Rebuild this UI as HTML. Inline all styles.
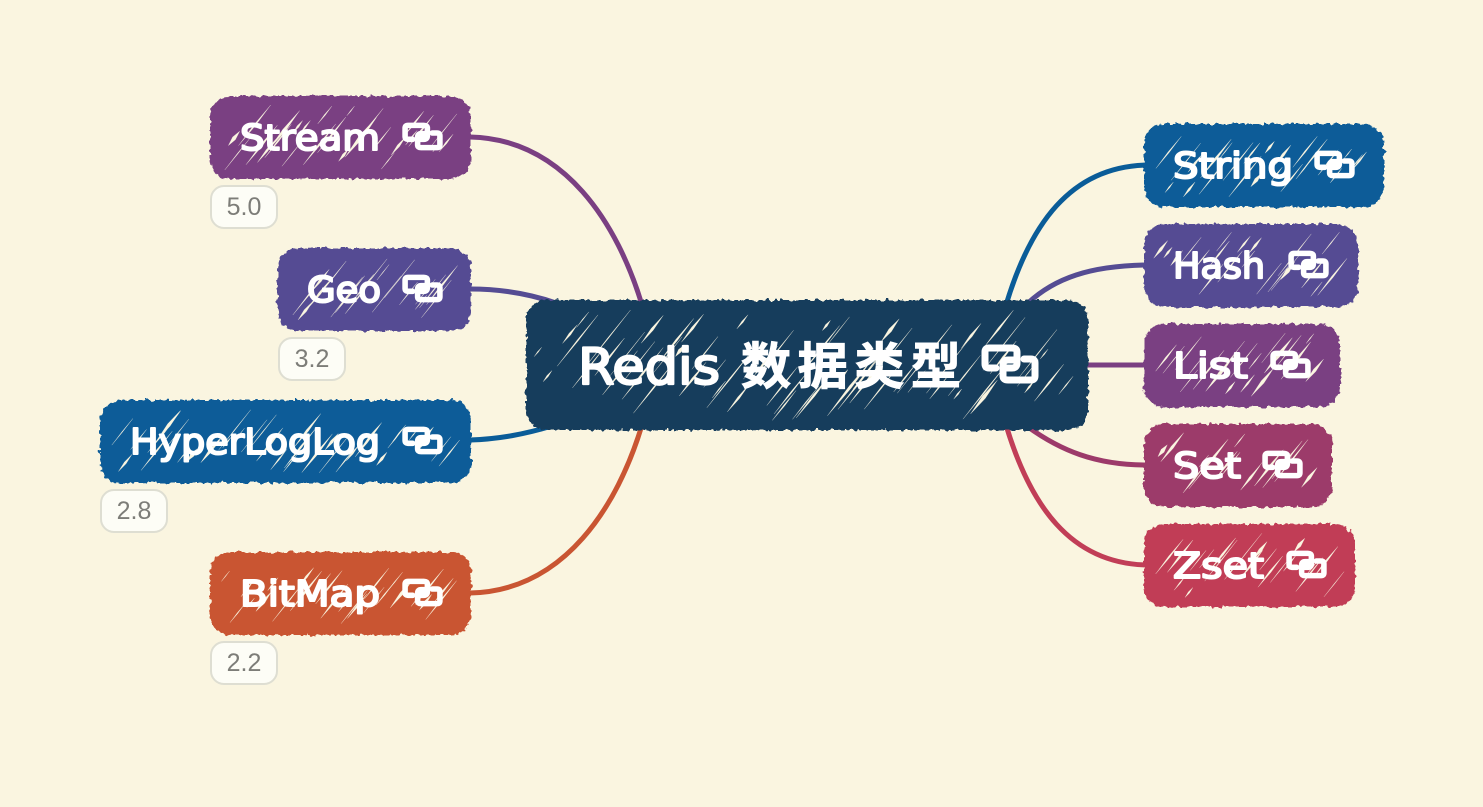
<!DOCTYPE html>
<html><head><meta charset="utf-8"><title>Redis 数据类型</title>
<style>
html,body{margin:0;padding:0;background:#faf5e0;width:1483px;height:807px;overflow:hidden}
svg{display:block}
.t{font-family:"DejaVu Sans","Liberation Sans",sans-serif;font-size:36px;font-weight:400;fill:#fff;stroke:#fff;stroke-width:2;stroke-linejoin:round}
.r{font-size:50px;font-family:"DejaVu Sans","Noto Sans CJK SC",sans-serif;stroke-width:2.2}
.c{font-family:"Noto Sans CJK SC","WenQuanYi Zen Hei",sans-serif;font-weight:700;font-size:50px;fill:#fff;stroke:#fff;stroke-width:1}
.v{font-family:"Liberation Sans",sans-serif;font-size:25px;fill:#7d7d78;text-anchor:middle}
.tag{fill:#fdfdf6;stroke:#deded2;stroke-width:2}
.l{fill:none;stroke-linecap:round}
use{stroke-width:8}
use.b{stroke-width:7}
</style></head><body>
<svg id="s" xmlns="http://www.w3.org/2000/svg" width="1483" height="807" viewBox="0 0 1483 807">
<defs>
<filter id="rough" x="-5%" y="-10%" width="110%" height="120%">
<feTurbulence type="fractalNoise" baseFrequency="0.2" numOctaves="2" seed="4"/>
<feDisplacementMap in="SourceGraphic" scale="6" xChannelSelector="R" yChannelSelector="G"/>
</filter>
<symbol id="ic" viewBox="0 0 56 38" overflow="visible">
<path d="M14 23H7Q3 23 3 19V7Q3 3 7 3H30Q35 3 35 7V18Q35 23 30 23H25" fill="none" stroke="#fff" stroke-linecap="round"/>
<path d="M42 14H49Q53 14 53 18V31Q53 35 49 35H26Q21 35 21 31V20Q21 15 26 15H33" fill="none" stroke="#fff" stroke-linecap="round"/>
</symbol>
</defs>
<rect width="1483" height="807" fill="#faf5e0"/>
<g class="conn">
<path class="l" stroke="#7a3f82" stroke-width="5" d="M470 137C565 139 618 225 642 305"/>
<path class="l" stroke="#554c93" stroke-width="5" d="M470 289C500 289 530 294 556 303"/>
<path class="l" stroke="#0a5c98" stroke-width="5" d="M470 440C500 439 525 434 552 426"/>
<path class="l" stroke="#c95532" stroke-width="5" d="M470 593C565 591 618 505 642 425"/>
<path class="l" stroke="#0a5c98" stroke-width="5" d="M1146 165C1070 167 1030 225 1006 305"/>
<path class="l" stroke="#554c93" stroke-width="5" d="M1146 265C1090 266 1055 278 1028 303"/>
<path class="l" stroke="#7a3f82" stroke-width="5" d="M1085 365H1146"/>
<path class="l" stroke="#9c3a6a" stroke-width="5" d="M1028 427C1060 450 1095 465 1146 465"/>
<path class="l" stroke="#c13e57" stroke-width="5" d="M1146 565C1070 563 1030 505 1006 425"/>
</g>
<g id="nodes" filter="url(#rough)">
<rect x="526" y="300" width="562" height="130" rx="20" fill="#163d5c"/>
<rect x="210" y="96" width="261" height="83" rx="20" fill="#7a3f82"/>
<rect x="278" y="248" width="193" height="83" rx="20" fill="#554c93"/>
<rect x="100" y="400" width="371" height="83" rx="20" fill="#0a5c98"/>
<rect x="210" y="552" width="261" height="83" rx="20" fill="#c95532"/>
<rect x="1144" y="124" width="240" height="83" rx="20" fill="#0a5c98"/>
<rect x="1144" y="224" width="214" height="83" rx="20" fill="#554c93"/>
<rect x="1144" y="324" width="196" height="83" rx="20" fill="#7a3f82"/>
<rect x="1144" y="424" width="188" height="83" rx="20" fill="#9c3a6a"/>
<rect x="1144" y="524" width="211" height="83" rx="20" fill="#c13e57"/>
</g>
<g id="hatch"></g>
<text class="t" x="240" y="150" textLength="140" lengthAdjust="spacingAndGlyphs">Stream</text>
<use href="#ic" x="403" y="123" width="39" height="27"/>
<text class="t" x="307" y="302" textLength="74" lengthAdjust="spacingAndGlyphs">Geo</text>
<use href="#ic" x="403" y="275" width="39" height="27"/>
<text class="t" x="130" y="454" textLength="250" lengthAdjust="spacingAndGlyphs">HyperLogLog</text>
<use href="#ic" x="403" y="427" width="39" height="27"/>
<text class="t" x="240" y="606" textLength="140" lengthAdjust="spacingAndGlyphs">BitMap</text>
<use href="#ic" x="403" y="579" width="39" height="27"/>
<text class="t" x="1173" y="178" textLength="120" lengthAdjust="spacingAndGlyphs">String</text>
<use href="#ic" x="1315" y="151" width="39" height="27"/>
<text class="t" x="1173" y="278" textLength="92" lengthAdjust="spacingAndGlyphs">Hash</text>
<use href="#ic" x="1289" y="251" width="39" height="27"/>
<text class="t" x="1173" y="378" textLength="75" lengthAdjust="spacingAndGlyphs">List</text>
<use href="#ic" x="1271" y="351" width="39" height="27"/>
<text class="t" x="1173" y="478" textLength="68" lengthAdjust="spacingAndGlyphs">Set</text>
<use href="#ic" x="1263" y="451" width="39" height="27"/>
<text class="t" x="1173" y="578" textLength="91" lengthAdjust="spacingAndGlyphs">Zset</text>
<use href="#ic" x="1287" y="551" width="39" height="27"/>
<text class="t r" x="578" y="384" textLength="142" lengthAdjust="spacingAndGlyphs">Redis</text>
<text class="c" x="741" y="384" textLength="220">数据类型</text>
<use class="b" href="#ic" x="982" y="345" width="56" height="38"/>
<rect class="tag" x="211" y="186" width="66" height="42" rx="13"/><text class="v" x="244" y="215">5.0</text>
<rect class="tag" x="279" y="338" width="66" height="42" rx="13"/><text class="v" x="312" y="367">3.2</text>
<rect class="tag" x="101" y="490" width="66" height="42" rx="13"/><text class="v" x="134" y="519">2.8</text>
<rect class="tag" x="211" y="642" width="66" height="42" rx="13"/><text class="v" x="244" y="671">2.2</text>
</svg>
<script>
(function(){
var seed=23;function R(){seed=(seed*16807)%2147483647;return seed/2147483647}
var N=[[525,299,563,131,64],[209,95,262,84,26],[277,247,194,84,19],[99,399,372,84,36],[209,551,262,84,26],[1143,123,241,84,24],[1143,223,215,84,21],[1143,323,197,84,19],[1143,423,189,84,18],[1143,523,212,84,21]];
var g=document.getElementById('hatch'),d='';
N.forEach(function(n){
 var x=n[0],y=n[1],w=n[2],h=n[3],c=n[4],m=9;
 for(var i=0;i<c;i++){
  var len=12+R()*(h*0.5),dx=len*0.62,dy=len*0.78;
  var slot=(i+R())/c;
  var sx=x+m+dx+slot*(w-2*m-dx),sy=y+m+R()*(h-2*m-dy);
  var ex=sx-dx,ey=sy+dy,t=0.4+R()*R()*2.8,mx=(sx+ex)/2,my=(sy+ey)/2;
  d+='M'+sx.toFixed(1)+' '+sy.toFixed(1)+'L'+(mx+t/2).toFixed(1)+' '+(my+t/2).toFixed(1)+'L'+ex.toFixed(1)+' '+ey.toFixed(1)+'L'+(mx-t/2).toFixed(1)+' '+(my-t/2).toFixed(1)+'Z';
 }
});
var p=document.createElementNS('http://www.w3.org/2000/svg','path');
p.setAttribute('d',d);p.setAttribute('fill','#faf5e0');p.setAttribute('stroke','#faf5e0');p.setAttribute('stroke-width','0.2');
g.insertBefore(p,null);
})();
</script>
</body></html>
